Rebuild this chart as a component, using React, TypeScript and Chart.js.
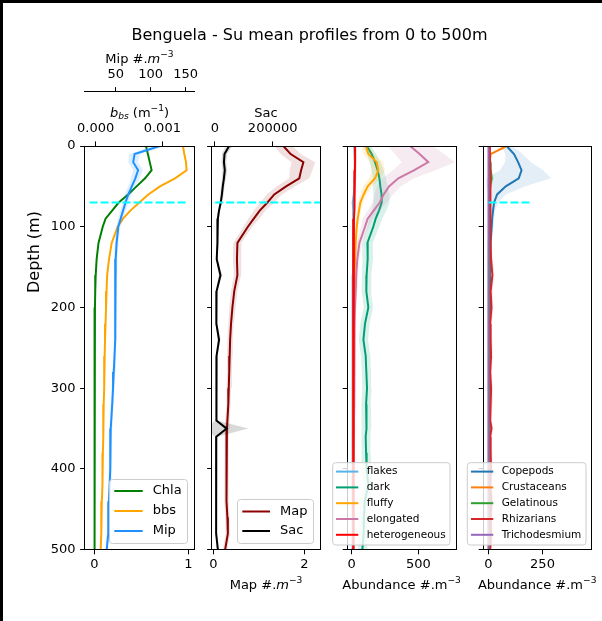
import React, { useEffect, useRef } from 'react';
import { Chart, registerables } from 'chart.js';
Chart.register(...registerables);

const W = 602;
const H = 621;
const FONT = "'DejaVu Sans', 'Liberation Sans', sans-serif";

// ---------------- data ----------------
const DEPTH = [0, 10, 20, 30, 40, 50, 60, 70, 80, 90, 100, 120, 140, 160, 180, 200, 220, 240, 260, 280, 300, 320, 340, 350, 360, 380, 400, 420, 440, 460, 480, 500];
const MLD = 70;

const CHLA = [0.55, 0.57, 0.59, 0.61, 0.54, 0.45, 0.36, 0.26, 0.19, 0.12, 0.09, 0.045, 0.025, 0.015, 0.01, 0.007, 0.006, 0.005, 0.005, 0.004, 0.004, 0.003, 0.003, 0.003, 0.003, 0.002, 0.002, 0.002, 0.002, 0.002, 0.001, 0.001];
const BBS = [0.00131, 0.00133, 0.001355, 0.001365, 0.00119, 0.000965, 0.00079, 0.000655, 0.00052, 0.00041, 0.00033, 0.00024, 0.0002, 0.000172, 0.000163, 0.000155, 0.000148, 0.00014, 0.000135, 0.00013, 0.000125, 0.00012, 0.000116, 0.000114, 0.000112, 0.000108, 0.000105, 0.000098, 0.000092, 0.000087, 0.000081, 0.000075];
const MIP = [113, 77, 75, 82, 78, 73, 68, 64, 60.5, 57, 53.7, 51.3, 50, 49.5, 49.4, 49.4, 49.3, 49, 48.3, 47.2, 46.2, 45, 43.6, 42.9, 42.6, 42.2, 41.9, 41.3, 40.4, 39.8, 39, 37.1];
const MIP_SD = [9, 8, 7, 7, 6, 5, 5, 4, 4, 3.5, 3, 2.5, 2.5, 2.5, 2, 2, 2, 2, 2, 2, 2, 2, 2, 2, 2, 2, 2, 2, 2, 2, 2, 2];

const MAP = [1.54, 1.7, 1.98, 1.93, 1.89, 1.6, 1.34, 1.19, 1.02, 0.89, 0.76, 0.53, 0.52, 0.53, 0.46, 0.42, 0.39, 0.37, 0.36, 0.35, 0.34, 0.33, 0.31, 0.3, 0.29, 0.29, 0.29, 0.29, 0.29, 0.31, 0.32, 0.26];
const MAP_SD = [0.2, 0.22, 0.26, 0.25, 0.22, 0.2, 0.17, 0.15, 0.13, 0.12, 0.1, 0.09, 0.09, 0.08, 0.07, 0.07, 0.06, 0.06, 0.06, 0.06, 0.05, 0.05, 0.05, 0.05, 0.05, 0.05, 0.05, 0.05, 0.05, 0.05, 0.05, 0.05];
const SAC = [49000, 33000, 31000, 34000, 31000, 27000, 24000, 20000, 14000, 10000, 8000, 9000, 6000, 19000, 5500, 4000, 5500, 14000, 5500, 5000, 5000, 5000, 5000, 40500, 4500, 4000, 4000, 4000, 4000, 4000, 4000, 10000];
const SAC_SD = [12000, 9000, 8000, 8000, 7000, 6000, 6000, 5000, 4000, 4000, 3500, 3500, 3000, 6000, 3000, 3000, 3000, 5000, 3000, 3000, 3000, 3000, 3000, 75000, 3000, 3000, 3000, 3000, 3000, 3000, 3000, 4000];

const FLAKES = [20, 22, 25, 25, 22, 20, 16, 8, 12, 14, 12, 10, 10, 9, 9, 8, 8, 8, 8, 7, 7, 7, 7, 7, 6, 6, 6, 6, 6, 6, 6, 6];
const FLAKES_SD = [12, 12, 12, 12, 12, 10, 10, 8, 8, 8, 8, 7, 7, 7, 6, 6, 6, 6, 6, 6, 6, 6, 6, 6, 6, 6, 6, 6, 6, 6, 6, 6];
const DARK = [113, 150, 175, 195, 208, 215, 224, 225, 205, 180, 162, 118, 120, 112, 110, 125, 100, 88, 105, 110, 115, 108, 112, 110, 105, 108, 112, 125, 98, 92, 90, 80];
const DARK_SD = [30, 35, 40, 45, 50, 55, 60, 60, 55, 50, 45, 40, 40, 35, 35, 35, 35, 35, 35, 35, 35, 35, 35, 35, 35, 35, 35, 35, 35, 35, 35, 35];
const FLUFFY = [107, 125, 188, 200, 175, 120, 90, 65, 55, 45, 38, 30, 25, 22, 20, 18, 17, 16, 16, 15, 15, 15, 14, 14, 14, 14, 13, 13, 13, 13, 12, 12];
const FLUFFY_SD = [30, 40, 50, 50, 45, 35, 25, 20, 15, 12, 10, 8, 8, 7, 7, 6, 6, 6, 6, 6, 6, 6, 6, 6, 6, 6, 6, 6, 6, 6, 6, 6];
const ELONG = [438, 510, 575, 470, 350, 280, 240, 210, 165, 120, 100, 58, 42, 34, 30, 25, 22, 20, 20, 19, 18, 18, 17, 17, 17, 16, 16, 16, 15, 15, 15, 15];
const ELONG_SD = [170, 185, 200, 160, 120, 90, 70, 55, 45, 38, 30, 20, 15, 12, 10, 10, 8, 8, 8, 8, 8, 8, 8, 8, 8, 8, 8, 8, 8, 8, 8, 8];
const HETERO = [25, 26, 25, 24, 23, 22, 20, 19, 18, 17, 16, 15, 14, 14, 13, 13, 12, 12, 12, 12, 11, 11, 11, 11, 11, 10, 10, 10, 10, 10, 10, 10];
const HETERO_SD = [10, 10, 10, 10, 9, 9, 8, 8, 8, 7, 7, 7, 6, 6, 6, 6, 6, 6, 6, 6, 6, 6, 6, 6, 6, 6, 6, 6, 6, 6, 6, 6];

const COPE = [84, 118, 137, 153, 140, 80, 40, 26, 21, 17, 15, 10, 8, 7, 6, 6, 6, 5, 5, 5, 5, 5, 5, 5, 5, 5, 5, 5, 5, 5, 5, 5];
const COPE_SD = [25, 40, 60, 100, 150, 90, 40, 20, 10, 8, 6, 4, 4, 3, 3, 3, 3, 3, 3, 3, 3, 3, 3, 3, 3, 3, 3, 3, 3, 3, 3, 3];
const CRUST = [84, 10, 5, 4, 4, 4, 3, 3, 3, 3, 3, 3, 3, 3, 2, 2, 2, 2, 2, 2, 2, 2, 2, 2, 2, 2, 2, 2, 2, 2, 2, 2];
const CRUST_SD = [20, 5, 3, 2, 2, 2, 2, 2, 2, 2, 2, 2, 2, 2, 2, 2, 2, 2, 2, 2, 2, 2, 2, 2, 2, 2, 2, 2, 2, 2, 2, 2];
const GELAT = [3, 5, 8, 10, 15, 8, 5, 4, 3, 3, 3, 2, 2, 2, 2, 2, 2, 2, 2, 2, 2, 2, 2, 2, 2, 2, 2, 2, 2, 2, 2, 2];
const GELAT_SD = [2, 4, 6, 8, 10, 6, 3, 2, 2, 2, 2, 2, 2, 2, 2, 2, 2, 2, 2, 2, 2, 2, 2, 2, 2, 2, 2, 2, 2, 2, 2, 2];
const RHIZ = [5, 6, 7, 8, 10, 10, 9, 8, 8, 8, 8, 10, 12, 18, 10, 14, 8, 10, 12, 8, 12, 10, 8, 14, 8, 10, 12, 8, 14, 10, 12, 8];
const RHIZ_SD = [5, 5, 5, 6, 6, 6, 6, 6, 6, 6, 6, 7, 8, 10, 8, 9, 7, 8, 8, 7, 8, 8, 7, 9, 7, 8, 8, 7, 9, 8, 8, 7];
const TRICHO = [0, 0, 0, 0, 0, 0, 0, 0, 0, 0, 0, 0, 0, 0, 0, 0, 0, 0, 0, 0, 0, 0, 0, 0, 0, 0, 0, 0, 0, 0, 0, 0];

const TICKS_DEPTH = [0, 100, 200, 300, 400, 500];
const TICKS_CHLA = [0, 1];
const TICKS_BBS = [0, 0.001];
const TICKS_MIP = [50, 100, 150];
const TICKS_MAP = [0, 2];
const TICKS_SAC = [0, 200000];
const TICKS_PART = [0, 500];
const TICKS_PLK = [0, 250];

// ---------------- helpers ----------------
const pts = (xs: number[]) => DEPTH.map((d, i) => ({ x: xs[i], y: d }));
const bandPts = (xs: number[], sd: number[]) => [
  ...DEPTH.map((d, i) => ({ x: xs[i] - sd[i], y: d })),
  ...DEPTH.map((d, i) => ({ x: xs[i] + sd[i], y: d })).reverse(),
];

const line = (xs: number[], color: string, axis: string) => ({
  data: pts(xs), borderColor: color, backgroundColor: color, borderWidth: 2,
  pointRadius: 0, fill: false, xAxisID: axis, yAxisID: 'y',
});
const band = (xs: number[], sd: number[], color: string, axis: string) => ({
  data: bandPts(xs, sd), borderColor: 'rgba(0,0,0,0)', borderWidth: 0, backgroundColor: color,
  pointRadius: 0, fill: 'shape', xAxisID: axis, yAxisID: 'y',
});
const cyan = (x0: number, x1: number, axis: string) => ({
  data: [{ x: x0, y: MLD }, { x: x1, y: MLD }], borderColor: '#00FFFF', borderWidth: 2,
  borderDash: [8, 3], pointRadius: 0, fill: false, xAxisID: axis, yAxisID: 'y',
});
const ordered = (ds: any[]) => ds.map((d, i) => ({ ...d, order: -i }));

const tickFont = { family: FONT, size: 13 };

function yAxis(showLabels: boolean, width: number) {
  return {
    type: 'linear', axis: 'y', position: 'left', reverse: true, min: 0, max: 500,
    afterBuildTicks: (ax: any) => { ax.ticks = TICKS_DEPTH.map((v) => ({ value: v })); },
    afterFit: (ax: any) => { ax.width = width; },
    ticks: {
      autoSkip: false, color: '#000', font: tickFont, padding: 4.6,
      callback: (v: any) => (showLabels ? String(v) : ''),
    },
    grid: { drawOnChartArea: false, drawTicks: true, tickLength: 4.6, tickColor: '#000', tickWidth: 1 },
    border: { display: false },
  };
}

function xAxis(pos: string, min: number, max: number, ticks: number[], fmt: (v: number) => string,
  height: number, pad: number, weight = 0, border = false) {
  return {
    type: 'linear', axis: 'x', position: pos, min, max, weight,
    afterBuildTicks: (ax: any) => { ax.ticks = ticks.map((v) => ({ value: v })); },
    afterFit: (ax: any) => { ax.height = height; },
    ticks: {
      autoSkip: false, maxRotation: 0, minRotation: 0, align: 'center', color: '#000', font: tickFont, padding: pad,
      callback: (v: any) => fmt(Number(v)),
    },
    grid: { drawOnChartArea: false, drawTicks: true, tickLength: 4.6, tickColor: '#000', tickWidth: 1 },
    border: { display: border, color: '#000', width: 1 },
  };
}

type Seg = { t: string; it?: boolean; sup?: boolean; sub?: boolean };
function drawRich(ctx: CanvasRenderingContext2D, segs: Seg[], cx: number, by: number, size: number) {
  const f = (s: Seg) => `${s.it ? 'italic ' : ''}${s.sup || s.sub ? size * 0.7 : size}px ${FONT}`;
  const ws = segs.map((s) => { ctx.font = f(s); return ctx.measureText(s.t).width; });
  const total = ws.reduce((a, b) => a + b, 0);
  let x = cx - total / 2;
  ctx.textAlign = 'left';
  ctx.textBaseline = 'alphabetic';
  ctx.fillStyle = '#000';
  segs.forEach((s, i) => {
    ctx.font = f(s);
    const dy = s.sup ? -size * 0.45 : s.sub ? size * 0.2 : 0;
    ctx.fillText(s.t, x, by + dy);
    x += ws[i];
  });
}

function rrect(ctx: CanvasRenderingContext2D, x: number, y: number, w: number, h: number, r: number) {
  ctx.beginPath();
  ctx.moveTo(x + r, y);
  ctx.lineTo(x + w - r, y);
  ctx.arcTo(x + w, y, x + w, y + r, r);
  ctx.lineTo(x + w, y + h - r);
  ctx.arcTo(x + w, y + h, x + w - r, y + h, r);
  ctx.lineTo(x + r, y + h);
  ctx.arcTo(x, y + h, x, y + h - r, r);
  ctx.lineTo(x, y + r);
  ctx.arcTo(x, y, x + r, y, r);
  ctx.closePath();
}

const framePlugin = {
  id: 'frame',
  afterDatasetsDraw(chart: any) {
    const { ctx, chartArea: a } = chart;
    const l = Math.floor(a.left) + 0.5, r = Math.floor(a.right) + 0.5;
    const t = Math.floor(a.top) + 0.5, b = Math.floor(a.bottom) + 0.5;
    ctx.save();
    ctx.strokeStyle = '#000';
    ctx.lineWidth = 1;
    ctx.strokeRect(l, t, r - l, b - t);
    ctx.restore();
  },
};

function legendPlugin(items: { label: string; color: string }[], box: number[], rows: number[],
  lx0: number, lx1: number, tx: number, size: number) {
  return {
    id: 'customLegend',
    afterDraw(chart: any) {
      const ctx = chart.ctx;
      ctx.save();
      rrect(ctx, box[0], box[1], box[2], box[3], 3);
      ctx.fillStyle = 'rgba(255,255,255,0.8)';
      ctx.fill();
      ctx.strokeStyle = '#cccccc';
      ctx.lineWidth = 1;
      ctx.stroke();
      items.forEach((it, i) => {
        ctx.strokeStyle = it.color;
        ctx.lineWidth = 2;
        ctx.beginPath();
        ctx.moveTo(lx0, rows[i]);
        ctx.lineTo(lx1, rows[i]);
        ctx.stroke();
        ctx.fillStyle = '#000';
        ctx.font = `${size}px ${FONT}`;
        ctx.textBaseline = 'middle';
        ctx.textAlign = 'left';
        ctx.fillText(it.label, tx, rows[i]);
      });
      ctx.restore();
    },
  };
}

function textPlugin(fn: (ctx: CanvasRenderingContext2D, chart: any) => void) {
  return {
    id: 'texts',
    afterDraw(chart: any) {
      const ctx = chart.ctx;
      ctx.save();
      fn(ctx, chart);
      ctx.restore();
    },
  };
}

function baseOptions(pad: { left: number; right: number; top: number; bottom: number }, scales: any) {
  return {
    responsive: false,
    animation: false,
    devicePixelRatio: 1,
    events: [],
    layout: { padding: pad, autoPadding: false },
    plugins: { legend: { display: false }, tooltip: { enabled: false }, title: { display: false } },
    elements: { point: { radius: 0, hoverRadius: 0 }, line: { tension: 0 } },
    scales,
  };
}

const TOP = 146;
const BOTTOM = 549.7;
const MIP_AXIS_Y = 91.7;
const mUnit: Seg[] = [{ t: 'm', it: true }, { t: '\u22123', sup: true }];

function cfgPanel1(): any {
  const L = 84.7, R = 194.3;
  const datasets = ordered([
    line(CHLA, 'green', 'x'),
    line(BBS, '#FFA500', 'x2'),
    band(MIP, MIP_SD, 'rgba(30,144,255,0.15)', 'x3'),
    line(MIP, '#1E90FF', 'x3'),
    cyan(-0.05, 1.0, 'x'),
  ]);
  return {
    type: 'line',
    data: { datasets },
    options: baseOptions({ left: 0, right: W - R, top: 0, bottom: 0 }, {
      y: yAxis(true, L),
      x: xAxis('bottom', -0.102, 1.064, TICKS_CHLA, (v) => String(v), H - BOTTOM, 3),
      x2: xAxis('top', -0.000165, 0.00148, TICKS_BBS, (v) => v.toFixed(3), TOP - MIP_AXIS_Y, 5.4, 0),
      x3: xAxis('top', 5.7, 162.3, TICKS_MIP, (v) => String(v), MIP_AXIS_Y, 4.6, 1, true),
    }),
    plugins: [
      framePlugin,
      legendPlugin(
        [{ label: 'Chla', color: 'green' }, { label: 'bbs', color: '#FFA500' }, { label: 'Mip', color: '#1E90FF' }],
        [109.5, 479.5, 78, 64], [491, 511, 531], 114.3, 142.7, 152.7, 13,
      ),
      textPlugin((ctx) => {
        ctx.fillStyle = '#000';
        ctx.fillRect(0, 0, W, 3);
        ctx.fillRect(0, 0, 3, H);
        ctx.font = `16px ${FONT}`;
        ctx.textAlign = 'center';
        ctx.textBaseline = 'alphabetic';
        ctx.fillText('Benguela - Su mean profiles from 0 to 500m', 309.5, 40);
        ctx.save();
        ctx.translate(35, 252);
        ctx.rotate(-Math.PI / 2);
        ctx.font = `16px ${FONT}`;
        ctx.textAlign = 'center';
        ctx.textBaseline = 'middle';
        ctx.fillText('Depth (m)', 0, 0);
        ctx.restore();
        drawRich(ctx, [{ t: 'Mip #.' }, ...mUnit], 139.5, 63, 13);
        drawRich(ctx, [{ t: 'b', it: true }, { t: 'bs', it: true, sub: true }, { t: ' (m' }, { t: '\u22121', sup: true }, { t: ')' }], 139.5, 116.5, 13);
      }),
    ],
  };
}

function cfgPanel2(): any {
  const L = 211.7, R = 320;
  const datasets = ordered([
    band(MAP, MAP_SD, 'rgba(139,0,0,0.12)', 'x'),
    line(MAP, '#8B0000', 'x'),
    band(SAC, SAC_SD, 'rgba(0,0,0,0.15)', 'x2'),
    line(SAC, '#000000', 'x2'),
    cyan(-0.2, 2.5, 'x'),
  ]);
  return {
    type: 'line',
    data: { datasets },
    options: baseOptions({ left: 0, right: W - R, top: 0, bottom: 0 }, {
      y: yAxis(false, L),
      x: xAxis('bottom', -0.035, 2.345, TICKS_MAP, (v) => String(v), H - BOTTOM, 3),
      // Sac tick labels are written by the text plugin, centred on the scale's tick pixels
      x2: xAxis('top', -11400, 364000, TICKS_SAC, () => '', TOP, 5.4),
    }),
    plugins: [
      framePlugin,
      legendPlugin(
        [{ label: 'Map', color: '#8B0000' }, { label: 'Sac', color: '#000000' }],
        [237.5, 499.5, 76, 44], [511.5, 531], 242.3, 270, 280, 13,
      ),
      textPlugin((ctx, chart) => {
        drawRich(ctx, [{ t: 'Sac' }], 266, 117, 13);
        drawRich(ctx, [{ t: 'Map #.' }, ...mUnit], 266, 589, 13);
        const sc = chart.scales.x2;
        ctx.font = `13px ${FONT}`;
        ctx.fillStyle = '#000';
        ctx.textAlign = 'center';
        ctx.textBaseline = 'middle';
        TICKS_SAC.forEach((v) => {
          ctx.fillText(String(v), sc.getPixelForValue(v), TOP - 4.6 - 5.4 - 7.8);
        });
      }),
    ],
  };
}

const PART_ITEMS = [
  { label: 'flakes', color: '#56B4E9' },
  { label: 'dark', color: '#009E73' },
  { label: 'fluffy', color: '#FFA500' },
  { label: 'elongated', color: '#CC79A7' },
  { label: 'heterogeneous', color: '#FF0000' },
];
const PLK_ITEMS = [
  { label: 'Copepods', color: '#1f77b4' },
  { label: 'Crustaceans', color: '#ff7f0e' },
  { label: 'Gelatinous', color: '#2ca02c' },
  { label: 'Rhizarians', color: '#d62728' },
  { label: 'Trichodesmium', color: '#9467bd' },
];
const ROWS5 = [471.6, 487.4, 503.2, 519, 534.8];

function cfgPanel3(): any {
  const L = 347.3, R = 456;
  const datasets = ordered([
    band(FLAKES, FLAKES_SD, 'rgba(86,180,233,0.15)', 'x'),
    line(FLAKES, '#56B4E9', 'x'),
    band(DARK, DARK_SD, 'rgba(0,158,115,0.15)', 'x'),
    line(DARK, '#009E73', 'x'),
    band(FLUFFY, FLUFFY_SD, 'rgba(255,165,0,0.15)', 'x'),
    line(FLUFFY, '#FFA500', 'x'),
    band(ELONG, ELONG_SD, 'rgba(204,121,167,0.15)', 'x'),
    line(ELONG, '#CC79A7', 'x'),
    band(HETERO, HETERO_SD, 'rgba(255,0,0,0.12)', 'x'),
    line(HETERO, '#FF0000', 'x'),
  ]);
  return {
    type: 'line',
    data: { datasets },
    options: baseOptions({ left: 0, right: W - R, top: TOP, bottom: 0 }, {
      y: yAxis(false, L),
      x: xAxis('bottom', -33, 783, TICKS_PART, (v) => String(v), H - BOTTOM, 3),
    }),
    plugins: [
      framePlugin,
      legendPlugin(PART_ITEMS, [332.7, 462.7, 117.3, 82.3], ROWS5, 336, 358.3, 366.7, 10.5),
      textPlugin((ctx) => {
        drawRich(ctx, [{ t: 'Abundance #.m' }, { t: '\u22123', sup: true }], 401.6, 589, 13);
      }),
    ],
  };
}

function cfgPanel4(): any {
  const L = 483.3, R = 591;
  const datasets = ordered([
    band(COPE, COPE_SD, 'rgba(31,119,180,0.12)', 'x'),
    line(COPE, '#1f77b4', 'x'),
    band(CRUST, CRUST_SD, 'rgba(255,127,14,0.12)', 'x'),
    line(CRUST, '#ff7f0e', 'x'),
    band(GELAT, GELAT_SD, 'rgba(44,160,44,0.12)', 'x'),
    line(GELAT, '#2ca02c', 'x'),
    band(RHIZ, RHIZ_SD, 'rgba(214,39,40,0.12)', 'x'),
    line(RHIZ, '#d62728', 'x'),
    line(TRICHO, '#9467bd', 'x'),
    cyan(0, 200, 'x'),
  ]);
  return {
    type: 'line',
    data: { datasets },
    options: baseOptions({ left: 0, right: W - R, top: TOP, bottom: 0 }, {
      y: yAxis(false, L),
      x: xAxis('bottom', -24, 474.5, TICKS_PLK, (v) => String(v), H - BOTTOM, 3),
    }),
    plugins: [
      framePlugin,
      legendPlugin(PLK_ITEMS, [467.3, 462.7, 118.7, 82.3], ROWS5, 471, 493.3, 501.7, 10.5),
      textPlugin((ctx) => {
        drawRich(ctx, [{ t: 'Abundance #.m' }, { t: '\u22123', sup: true }], 537.2, 589, 13);
      }),
    ],
  };
}

export default function App() {
  const r1 = useRef<HTMLCanvasElement>(null);
  const r2 = useRef<HTMLCanvasElement>(null);
  const r3 = useRef<HTMLCanvasElement>(null);
  const r4 = useRef<HTMLCanvasElement>(null);

  useEffect(() => {
    const charts = [
      new Chart(r1.current as HTMLCanvasElement, cfgPanel1()),
      new Chart(r2.current as HTMLCanvasElement, cfgPanel2()),
      new Chart(r3.current as HTMLCanvasElement, cfgPanel3()),
      new Chart(r4.current as HTMLCanvasElement, cfgPanel4()),
    ];
    return () => charts.forEach((c) => c.destroy());
  }, []);

  const cs: any = { position: 'absolute', left: 0, top: 0, width: W, height: H };
  return (
    <div style={{ position: 'fixed', left: 0, top: 0, width: W, height: H, background: '#fff', overflow: 'hidden' }}>
      <canvas ref={r1} width={W} height={H} style={cs} />
      <canvas ref={r2} width={W} height={H} style={cs} />
      <canvas ref={r3} width={W} height={H} style={cs} />
      <canvas ref={r4} width={W} height={H} style={cs} />
    </div>
  );
}
